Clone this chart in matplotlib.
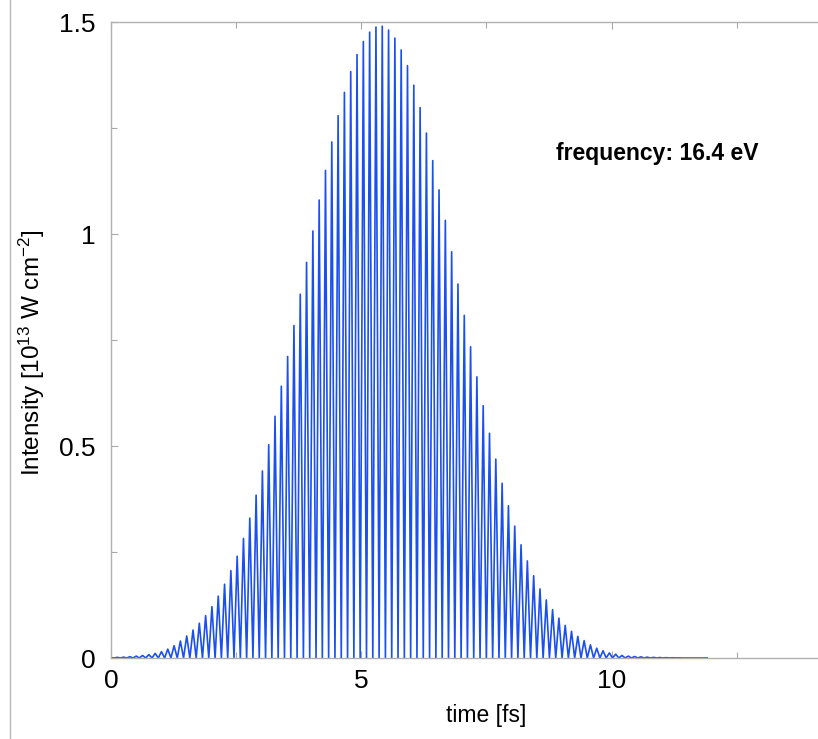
import matplotlib

matplotlib.use("Agg")
import matplotlib.pyplot as plt
import numpy as np
from matplotlib.lines import Line2D
from matplotlib.ticker import MultipleLocator

plt.rcParams["font.family"] = ["Liberation Sans", "DejaVu Sans"]
plt.rcParams["mathtext.default"] = "regular"

# one intensity maximum per half optical cycle (16.4 eV -> ~0.126 fs), heights
PEAK_SPACING_FS = 0.126
PEAK_INTENSITY = [
    0.001, 0.0015, 0.002, 0.003, 0.0045, 0.006, 0.008, 0.011, 0.015, 0.021,
    0.029, 0.040, 0.052, 0.066, 0.082, 0.100, 0.121, 0.146, 0.174, 0.206,
    0.240, 0.282, 0.330, 0.384, 0.441, 0.503, 0.570, 0.641, 0.711, 0.784,
    0.858, 0.933, 1.007, 1.080, 1.150, 1.217, 1.279, 1.334, 1.383, 1.423,
    1.454, 1.476, 1.488, 1.490, 1.481, 1.462, 1.434, 1.397, 1.351, 1.298,
    1.238, 1.173, 1.104, 1.032, 0.958, 0.882, 0.808, 0.734, 0.663, 0.595,
    0.530, 0.469, 0.412, 0.359, 0.311, 0.267, 0.229, 0.194, 0.163, 0.137,
    0.114, 0.094, 0.077, 0.063, 0.051, 0.041, 0.031, 0.023, 0.017, 0.012,
    0.009, 0.006, 0.0045, 0.0035, 0.0027, 0.002, 0.0015, 0.0011, 0.0008, 0.0005,
    0.0003, 0.0, 0.0, 0.0, 0.0,
]
X_TICKS = [0, 5, 10]
Y_TICKS = [0, 0.5, 1, 1.5]
Y_TICK_LABELS = ["0", "0.5", "1", "1.5"]
ANNOTATION = "frequency: 16.4 eV"

peaks = np.asarray(PEAK_INTENSITY)
peak_t = np.arange(len(peaks)) * PEAK_SPACING_FS
t = np.empty(2 * len(peaks))
y = np.zeros(2 * len(peaks))
t[0::2] = peak_t
t[1::2] = peak_t + PEAK_SPACING_FS / 2
y[0::2] = peaks

W, H = 818, 739
fig = plt.figure(figsize=(W / 100, H / 100), dpi=100)
# axes runs past the right edge of the picture (cropped screenshot)
ax = fig.add_axes([111 / W, (H - 658) / H, (862 - 111) / W, (658 - 22) / H])

ax.plot(t, y, color="#1a4ff0", lw=1.2)

ax.set_xlim(0, 15)
ax.set_ylim(0, 1.5)
ax.set_xticks(X_TICKS)
ax.set_xticklabels([str(v) for v in X_TICKS])
ax.set_yticks(Y_TICKS)
ax.set_yticklabels(Y_TICK_LABELS)
ax.xaxis.set_minor_locator(MultipleLocator(2.5))
ax.yaxis.set_minor_locator(MultipleLocator(0.25))
ax.tick_params(which="both", direction="in", top=True, right=True, color="#a8a8a8", width=0.8)
ax.tick_params(which="major", length=5)
ax.tick_params(which="minor", length=4)
ax.tick_params(axis="y", which="major", labelsize=19, pad=11)
ax.tick_params(axis="x", which="major", labelsize=19, pad=8)
for side in ax.spines.values():
    side.set_color("#b0b0b0")
    side.set_linewidth(1.0)

ax.set_xlabel("time [fs]", fontsize=16.5, labelpad=8)
ax.set_ylabel(r"Intensity [10$^{13}$ W cm$^{-2}$]", fontsize=17.5)
ax.yaxis.set_label_coords(-0.085, 0.48)

ax.text(8.88, 1.19, ANNOTATION, fontsize=16.5, fontweight="bold", ha="left", va="center")

fig.add_artist(Line2D([10 / W, 10 / W], [0, 1], color="#b8b8b8", lw=1.0))

fig.savefig("out.png", dpi=100)
